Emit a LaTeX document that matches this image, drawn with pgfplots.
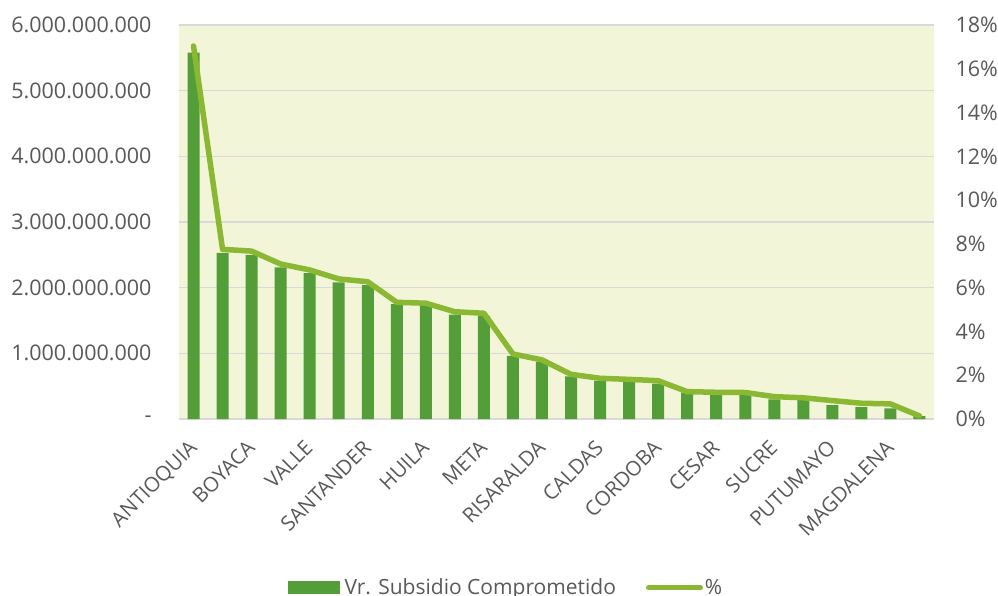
\documentclass[border=0pt]{standalone}
\usepackage{fontspec}
\setmainfont{Open Sans}
\usepackage{pgfplots}
\pgfplotsset{compat=1.18}

\definecolor{barGreen}{HTML}{549E39}
\definecolor{lineGreen}{HTML}{8AB833}
\definecolor{plotBg}{HTML}{F2F5D8}
\definecolor{gridGray}{HTML}{D9D9D9}
\definecolor{textGray}{HTML}{595959}

\pgfplotsset{
  barleg/.style={legend image code/.code={\fill[##1] (0pt,-6.5pt) rectangle (52pt,6.5pt); \path (0pt,0pt) -- (55pt,0pt);}},
  lineleg/.style={legend image code/.code={\draw[##1] (3pt,0pt) -- (55pt,0pt);}},
}

\begin{document}
\begin{tikzpicture}
\useasboundingbox (-179pt,-177pt) rectangle (819pt,419pt);
\pgfplotsset{
  every axis/.append style={
    scale only axis,
    width=755pt, height=394pt,
    xmin=0.5, xmax=26.5,
    axis line style={draw=none},
    major tick length=0pt,
    tick label style={font=\fontsize{21.5}{25}\selectfont, text=textGray},
    /pgf/number format/assume math mode=true,
  }
}

\begin{axis}[
  axis background/.style={fill=plotBg},
  ymin=0, ymax=6000000000,
  scaled y ticks=false,
  ytick={0,1000000000,2000000000,3000000000,4000000000,5000000000,6000000000},
  yticklabels={-,1.000.000.000,2.000.000.000,3.000.000.000,4.000.000.000,5.000.000.000,6.000.000.000},
  yticklabel style={xshift=-24pt},
  ymajorgrids,
  grid style={gridGray, line width=1.5pt},
  xtick={1,3,5,7,9,11,13,15,17,19,21,23,25},
  xticklabels={ANTIOQUIA,BOYACA,VALLE,SANTANDER,HUILA,META,RISARALDA,CALDAS,CORDOBA,CESAR,SUCRE,PUTUMAYO,MAGDALENA},
  xticklabel style={xshift=-6pt, yshift=-15pt, rotate=45, anchor=north east, font=\fontsize{20.5}{24}\selectfont},
  legend columns=2,
  legend style={draw=none, fill=none, at={(rel axis cs:0.433,-0.428)}, anchor=center,
    font=\fontsize{21}{25}\selectfont, text=textGray,
    /tikz/every even column/.append style={column sep=28pt}},
]
\addplot[ybar, bar width=12pt, fill=barGreen, draw=none, barleg]
  coordinates {
    (1,5580000000) (2,2530000000) (3,2500000000) (4,2310000000) (5,2220000000)
    (6,2080000000) (7,2040000000) (8,1750000000) (9,1730000000) (10,1590000000)
    (11,1570000000) (12,960000000) (13,870000000) (14,650000000) (15,580000000)
    (16,560000000) (17,540000000) (18,400000000) (19,370000000) (20,365000000)
    (21,300000000) (22,290000000) (23,210000000) (24,180000000) (25,160000000)
    (26,45000000)
  };
\addlegendentry{Vr. Subsidio Comprometido}
\addlegendimage{lineGreen, line width=5pt, line cap=round, lineleg}
\addlegendentry{\%}
\end{axis}

\begin{axis}[
  axis y line*=right,
  axis x line=none,
  ymin=0, ymax=18,
  ytick={0,2,4,6,8,10,12,14,16,18},
  yticklabels={0\%,2\%,4\%,6\%,8\%,10\%,12\%,14\%,16\%,18\%},
  yticklabel style={xshift=18pt},
]
\addplot[lineGreen, line width=5.5pt, line join=round, line cap=round]
  coordinates {
    (1,17.04) (2,7.75) (3,7.67) (4,7.08) (5,6.81) (6,6.40) (7,6.27) (8,5.33)
    (9,5.29) (10,4.90) (11,4.83) (12,2.97) (13,2.70) (14,2.04) (15,1.86)
    (16,1.81) (17,1.75) (18,1.25) (19,1.22) (20,1.21) (21,1.02) (22,0.97)
    (23,0.84) (24,0.72) (25,0.69) (26,0.14)
  };
\end{axis}
\end{tikzpicture}
\end{document}
